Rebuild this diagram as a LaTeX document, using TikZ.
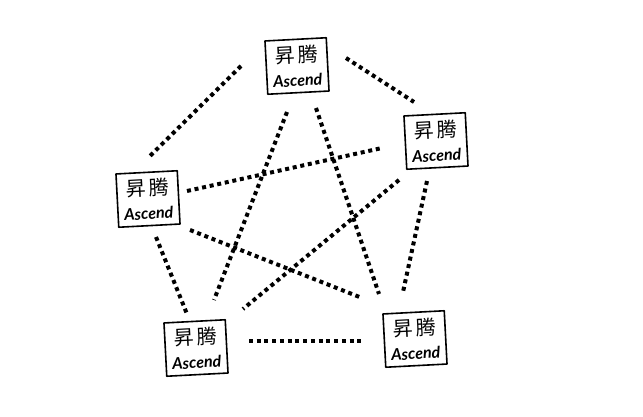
\documentclass[tikz,border=0pt]{standalone}
\usepackage{fontspec}
\setmainfont{Lato}
\newfontfamily\cjk{Noto Sans CJK SC}
\newcommand{\chiptext}{{\cjk\fontsize{15pt}{15pt}\selectfont 昇\,腾}\\[6pt]{\bfseries\itshape\fontsize{12pt}{13pt}\selectfont Ascend}}
\tikzset{
  chip/.style={draw, line width=1.2pt, rotate=3, minimum width=46pt, minimum height=40pt,
    inner sep=0pt, align=center, line join=round},
  link/.style={line width=3pt, dash pattern=on 3pt off 2.8pt}
}

\begin{document}
\begin{tikzpicture}[x=0.75pt, y=-0.75pt]

  \useasboundingbox (0, 0) rectangle (643, 417);

  \node[chip] (chipTop) at (297, 66) {\chiptext};
  \node[chip] (chipRight) at (436, 141) {\chiptext};
  \node[chip] (chipLeft) at (148, 199) {\chiptext};
  \node[chip] (chipLow) at (196, 348) {\chiptext};
  \node[chip] (chipEnd) at (415, 339) {\chiptext};

  % outer ring
  \draw[link] ([shift={(-56, 0)}]chipTop.center) -- ([shift={(2, -43)}]chipLeft.center);
  \draw[link] ([shift={(49, -8)}]chipTop.center) -- ([shift={(-22, -39)}]chipRight.center);
  \draw[link] ([shift={(-9, 40)}]chipRight.center) -- ([shift={(-12, -47)}]chipEnd.center);
  \draw[link] ([shift={(53, -7)}]chipLow.center) -- ([shift={(-52, 2)}]chipEnd.center);
  \draw[link] ([shift={(8, 38)}]chipLeft.center) -- ([shift={(-9, -34)}]chipLow.center);

  % inner star
  \draw[link] ([shift={(-10, 46)}]chipTop.center) -- ([shift={(18, -48)}]chipLow.center);
  \draw[link] ([shift={(19, 42)}]chipTop.center) -- ([shift={(-36, -45)}]chipEnd.center);
  \draw[link] ([shift={(39, -8)}]chipLeft.center) -- ([shift={(-54, 7)}]chipRight.center);
  \draw[link] ([shift={(42, 31)}]chipLeft.center) -- ([shift={(-53, -41)}]chipEnd.center);
  \draw[link] ([shift={(-37, 39)}]chipRight.center) -- ([shift={(47, -39)}]chipLow.center);

\end{tikzpicture}
\end{document}
